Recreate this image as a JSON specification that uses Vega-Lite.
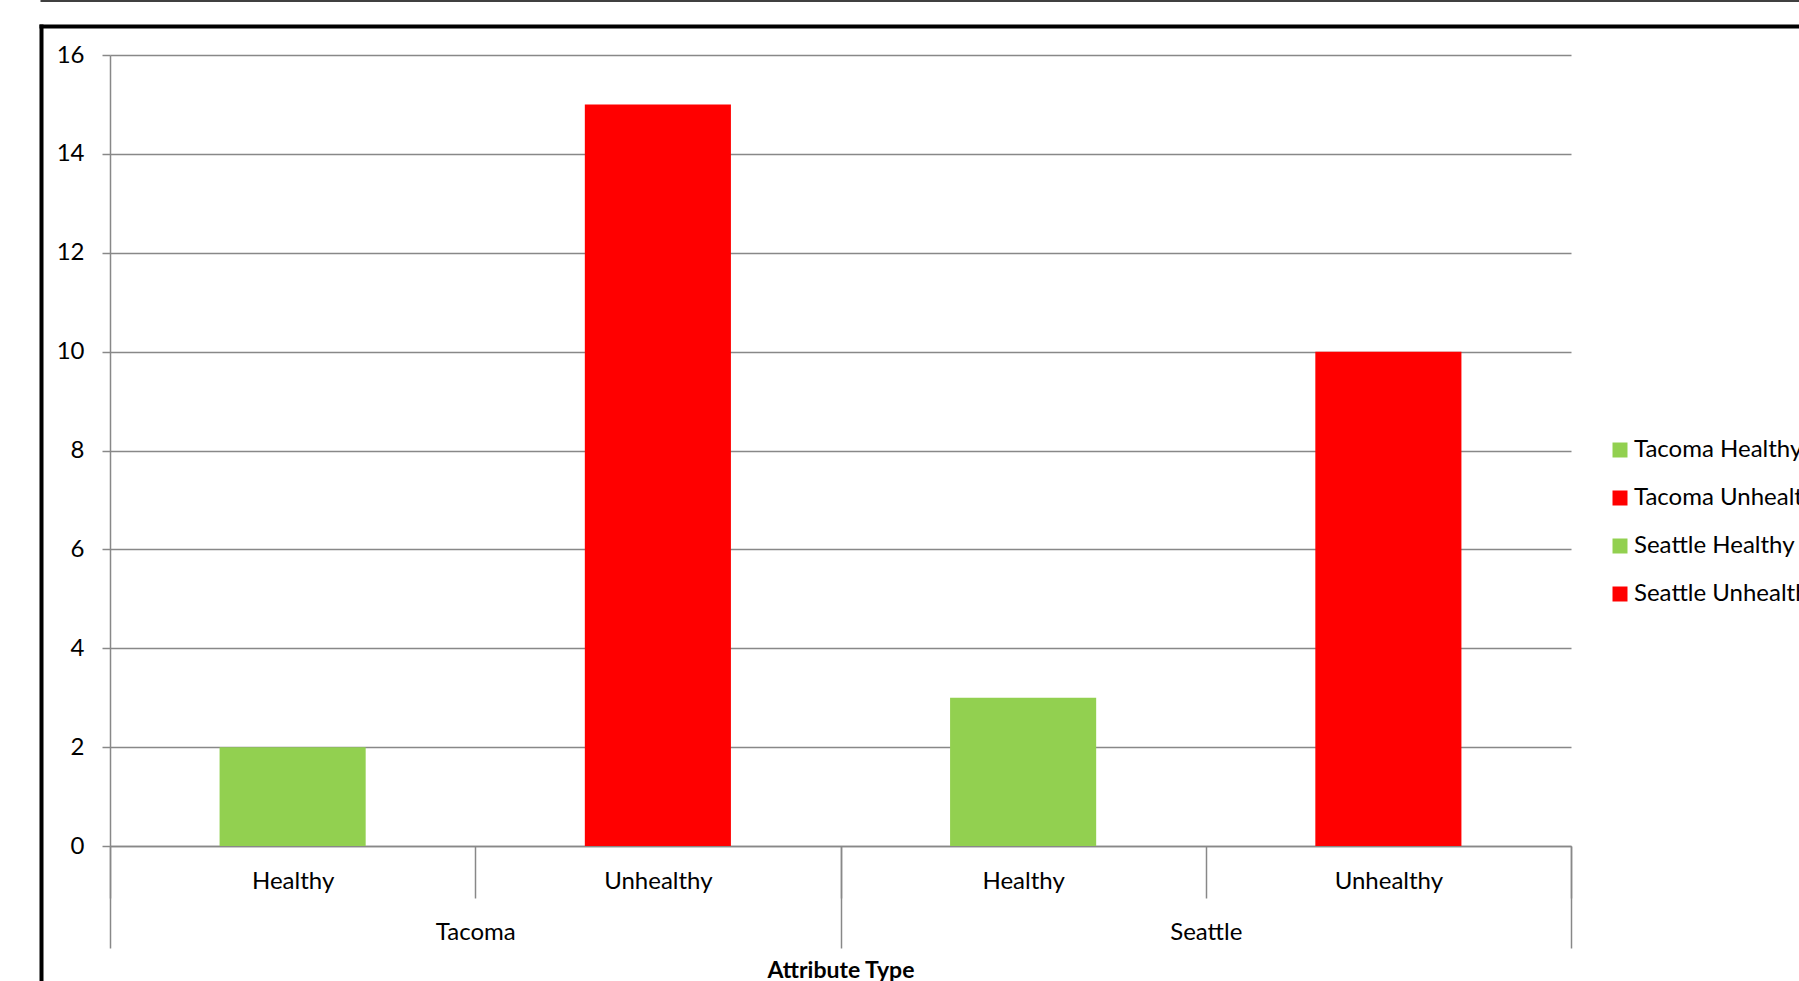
{
  "$schema": "https://vega.github.io/schema/vega-lite/v6.json",
  "width": 1461,
  "height": 791,
  "autosize": {"type": "none"},
  "padding": {"left": 110, "top": 55, "right": 228, "bottom": 135},
  "background": "white",
  "config": {
    "view": {"stroke": null},
    "font": "Lato",
    "axis": {"labelFont": "Lato", "titleFont": "Lato", "labelColor": "#000", "titleColor": "#000"},
    "legend": {"labelFont": "Lato"}
  },
  "data": {
    "values": [
      {"city": "Tacoma", "type": "Healthy", "key": "Tacoma Healthy", "value": 2},
      {"city": "Tacoma", "type": "Unhealthy", "key": "Tacoma Unhealthy", "value": 15},
      {"city": "Seattle", "type": "Healthy", "key": "Seattle Healthy", "value": 3},
      {"city": "Seattle", "type": "Unhealthy", "key": "Seattle Unhealthy", "value": 10}
    ]
  },
  "layer": [
    {
      "mark": {"type": "bar", "width": {"band": 0.4}},
      "encoding": {
        "x": {
          "field": "key", "type": "nominal",
          "sort": ["Tacoma Healthy", "Tacoma Unhealthy", "Seattle Healthy", "Seattle Unhealthy"],
          "scale": {"paddingInner": 0, "paddingOuter": 0},
          "axis": {"orient": "bottom", "labelExpr": "split(datum.label, ' ')[1]", "labelAngle": 0, "labelFontSize": 24, "labelPadding": -29, "tickBand": "extent", "tickSize": 52, "tickColor": "#888888", "tickWidth": 1.5, "domainColor": "#888888", "domainWidth": 1.5, "grid": false, "title": null}
        },
        "y": {
          "field": "value", "type": "quantitative",
          "scale": {"domain": [0, 16], "nice": false},
          "axis": {"orient": "left", "values": [0, 2, 4, 6, 8, 10, 12, 14, 16], "labelFontSize": 24, "labelPadding": 18, "tickSize": 8, "tickColor": "#888888", "tickWidth": 1.5, "domainColor": "#888888", "domainWidth": 1.5, "gridColor": "#888888", "gridWidth": 1.5, "gridOpacity": 1, "title": null}
        },
        "color": {
          "field": "key", "type": "nominal",
          "scale": {"domain": ["Tacoma Healthy", "Tacoma Unhealthy", "Seattle Healthy", "Seattle Unhealthy"], "range": ["#92D050", "#FF0000", "#92D050", "#FF0000"]},
          "legend": {"orient": "none", "legendX": 1498, "legendY": 383, "title": null, "symbolType": "square", "symbolSize": 225, "symbolStrokeWidth": 0, "symbolOpacity": 1, "labelFontSize": 24, "labelColor": "#000", "labelLimit": 1000, "rowPadding": 24, "labelOffset": 2, "padding": 0}
        }
      }
    },
    {
      "mark": {"type": "point", "opacity": 0},
      "encoding": {
        "x": {
          "field": "city", "type": "nominal", "sort": ["Tacoma", "Seattle"],
          "scale": {"type": "band", "paddingInner": 0, "paddingOuter": 0},
          "axis": {"orient": "bottom", "labelAngle": 0, "labelFontSize": 24, "labelPadding": -28, "tickBand": "extent", "tickSize": 102, "tickColor": "#888888", "tickWidth": 1.5, "domain": false, "grid": false, "title": "Attribute Type", "titleFontSize": 23, "titleFontWeight": "bold", "titlePadding": 11}
        }
      }
    },
    {
      "mark": {"type": "point", "opacity": 0},
      "encoding": {
        "x": {
          "field": "city", "type": "nominal",
          "scale": {"range": [-71, 1760]},
          "axis": {"orient": "top", "offset": 29, "domainColor": "#000", "domainWidth": 4, "ticks": false, "labels": false, "grid": false, "title": null}
        },
        "y": {
          "field": "value", "type": "quantitative",
          "scale": {"range": [931, -31]},
          "axis": {"orient": "left", "offset": 69, "domainColor": "#000", "domainWidth": 4, "ticks": false, "labels": false, "grid": false, "title": null}
        }
      }
    },
    {
      "mark": {"type": "point", "opacity": 0},
      "encoding": {
        "x": {
          "field": "type", "type": "nominal",
          "scale": {"range": [-70, 1760]},
          "axis": {"orient": "top", "offset": 54.5, "domainColor": "#000", "domainWidth": 1.5, "ticks": false, "labels": false, "grid": false, "title": null}
        }
      }
    }
  ],
  "resolve": {
    "scale": {"x": "independent", "y": "independent"},
    "axis": {"x": "independent", "y": "independent"}
  }
}
